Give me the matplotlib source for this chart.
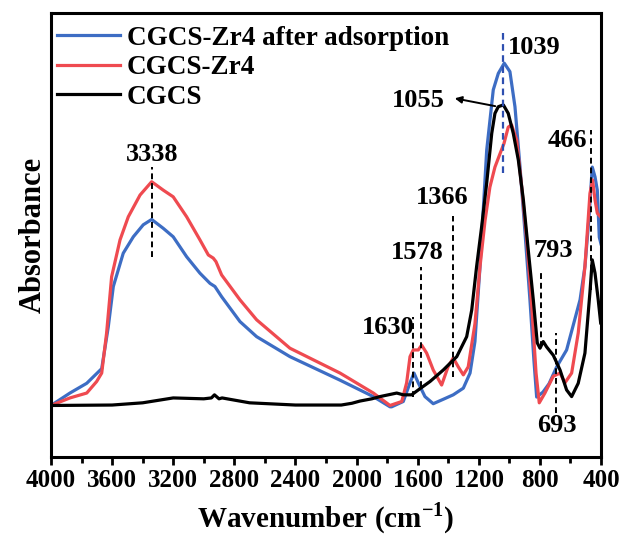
import matplotlib
matplotlib.use("Agg")
import matplotlib.pyplot as plt
import numpy as np

# ─── Data (absorbance in arbitrary units) ──────────────────────────────────────
wn_blue = [4000, 3876, 3766, 3668, 3625, 3592, 3527, 3461, 3396, 3341, 3265, 3200,
           3112, 3025, 2959, 2927, 2883, 2763, 2654, 2436, 2108, 1890, 1781, 1770,
           1694, 1650, 1624, 1596, 1552, 1498, 1432, 1367, 1301, 1257, 1225, 1192,
           1148, 1105, 1072, 1033, 996, 963, 930, 897, 865, 839, 821, 780, 740, 690,
           625, 537, 505, 478, 457, 439, 424, 411, 400]
ab_blue = [0.116, 0.144, 0.166, 0.199, 0.293, 0.384, 0.459, 0.496, 0.523, 0.535,
           0.515, 0.496, 0.451, 0.414, 0.391, 0.384, 0.361, 0.305, 0.271, 0.226,
           0.173, 0.136, 0.113, 0.113, 0.125, 0.167, 0.189, 0.167, 0.136, 0.120,
           0.130, 0.140, 0.155, 0.189, 0.260, 0.428, 0.691, 0.827, 0.864, 0.887,
           0.868, 0.789, 0.654, 0.504, 0.354, 0.218, 0.135, 0.146, 0.165, 0.203,
           0.241, 0.354, 0.429, 0.541, 0.653, 0.631, 0.601, 0.495, 0.480]

wn_red = [4000, 3876, 3766, 3701, 3668, 3636, 3603, 3548, 3494, 3417, 3341, 3265,
          3200, 3112, 3025, 2970, 2938, 2920, 2883, 2763, 2654, 2436, 2108, 1890,
          1781, 1704, 1672, 1650, 1629, 1596, 1574, 1541, 1498, 1443, 1401, 1367,
          1334, 1301, 1269, 1225, 1192, 1159, 1127, 1094, 1061, 1035, 1007, 985,
          952, 919, 886, 853, 825, 804, 767, 712, 668, 636, 592, 549, 505, 472,
          455, 439, 424, 400]
ab_red = [0.116, 0.133, 0.144, 0.170, 0.189, 0.279, 0.406, 0.489, 0.541, 0.590,
          0.620, 0.601, 0.586, 0.541, 0.489, 0.455, 0.448, 0.440, 0.410, 0.354,
          0.309, 0.245, 0.189, 0.144, 0.116, 0.125, 0.167, 0.226, 0.241, 0.241,
          0.252, 0.234, 0.196, 0.162, 0.203, 0.223, 0.203, 0.185, 0.203, 0.300,
          0.428, 0.532, 0.608, 0.653, 0.683, 0.706, 0.743, 0.748, 0.714, 0.609,
          0.489, 0.339, 0.189, 0.122, 0.144, 0.182, 0.189, 0.167, 0.189, 0.279,
          0.429, 0.594, 0.624, 0.579, 0.549, 0.540]

wn_black = [4000, 3600, 3400, 3200, 3000, 2950, 2930, 2900, 2880, 2700, 2400, 2100,
            2030, 1977, 1900, 1847, 1737, 1694, 1639, 1596, 1519, 1432, 1344, 1279,
            1246, 1214, 1181, 1148, 1115, 1094, 1072, 1039, 1007, 974, 941, 908, 876,
            843, 817, 799, 778, 756, 712, 668, 625, 592, 549, 505, 472, 457, 439,
            418, 402]
ab_black = [0.116, 0.117, 0.122, 0.133, 0.131, 0.133, 0.140, 0.131, 0.133, 0.122,
            0.117, 0.117, 0.121, 0.126, 0.131, 0.136, 0.144, 0.140, 0.140, 0.151,
            0.170, 0.196, 0.226, 0.271, 0.331, 0.429, 0.519, 0.617, 0.729, 0.774,
            0.789, 0.793, 0.774, 0.729, 0.669, 0.579, 0.466, 0.354, 0.257, 0.245,
            0.260, 0.248, 0.229, 0.196, 0.151, 0.136, 0.166, 0.234, 0.372, 0.444,
            0.414, 0.354, 0.302]

labels = ["CGCS-Zr4 after adsorption", "CGCS-Zr4", "CGCS"]
colors = ["#3D6DC4", "#EF4A50", "#000000"]

# peak marks: (label, line x, y0, y1, text x, text y)
peaks = [
    ("3338", 3338, 0.450, 0.653, 3338, 0.655),
    ("1630", 1630, 0.135, 0.315, 1794, 0.265),
    ("1578", 1578, 0.158, 0.428, 1604, 0.435),
    ("1366", 1366, 0.180, 0.542, 1441, 0.558),
    ("466", 466, 0.376, 0.736, 622, 0.687),
    ("793", 793, 0.248, 0.421, 714, 0.439),
    ("693", 693, 0.099, 0.279, 688, 0.045),
]
# ────────────────────────────────────────────────────────────────────────────────

FONT = "Liberation Serif"
plt.rcParams["font.family"] = FONT
plt.rcParams["font.weight"] = "bold"
plt.rcParams["mathtext.fontset"] = "custom"
plt.rcParams["mathtext.bf"] = FONT + ":bold"
plt.rcParams["mathtext.rm"] = FONT + ":bold"

fig = plt.figure(figsize=(6.24, 5.38), dpi=100)
ax = fig.add_axes([0.0817, 0.1506, 0.8814, 0.8252])

for wn, ab, lab, c in zip([wn_blue, wn_red, wn_black], [ab_blue, ab_red, ab_black],
                          labels, colors):
    ax.plot(wn, ab, color=c, lw=2.3, label=lab, solid_joinstyle="round")

dash = (0, (3, 2))
for txt, lx, y0, y1, tx, ty in peaks:
    ax.plot([lx, lx], [y0, y1], color="black", lw=1.4, linestyle=dash)
    ax.text(tx, ty, txt, ha="center", va="bottom", fontsize=19, fontweight="bold")

# 1039 marker (blue dashed)
ax.plot([1039, 1039], [0.640, 0.955], color="#2E4FB0", lw=1.6, linestyle=dash)
ax.text(1010, 0.923, "1039", ha="left", va="center", fontsize=19, fontweight="bold")

# 1055 with arrow
ax.annotate("", xy=(1375, 0.809), xytext=(1074, 0.789),
            arrowprops=dict(arrowstyle="-|>", color="black", lw=1.4,
                            mutation_scale=10))
ax.text(1598, 0.804, "1055", ha="center", va="center", fontsize=19, fontweight="bold")

ax.set_xlim(4000, 400)
ax.set_ylim(0, 1)
ax.set_xticks(np.arange(4000, 399, -400))
ax.set_xticks(np.arange(3800, 400, -400), minor=True)
ax.tick_params(axis="x", which="major", length=6, width=2, direction="out",
               labelsize=18, pad=3)
ax.tick_params(axis="x", which="minor", length=4, width=2, direction="out")
ax.set_yticks([])
for s in ax.spines.values():
    s.set_linewidth(2.2)

ax.set_xlabel("Wavenumber (cm$^{-1}$)", fontsize=21, fontweight="bold",
              labelpad=6)
ax.set_ylabel("Absorbance", fontsize=22, fontweight="bold", labelpad=2)

ax.legend(loc="upper left", bbox_to_anchor=(0.0, 0.985), frameon=False,
          fontsize=19.5, handlelength=2.33, handletextpad=0.26, labelspacing=0.17,
          borderaxespad=0.05, borderpad=0.17)

fig.savefig("out.png", dpi=100)
